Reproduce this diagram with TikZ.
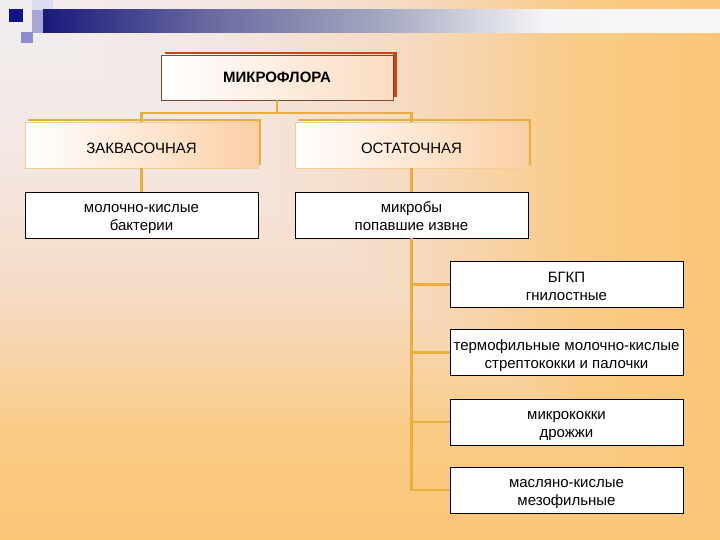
\documentclass[tikz,border=0pt]{standalone}
\usepackage{fontspec}
\setmainfont{Liberation Sans}
\usetikzlibrary{positioning,shadows}
\definecolor{bgpale}{HTML}{F1EEF0}
\definecolor{bgone}{HTML}{F3E7E2}
\definecolor{bgmid}{HTML}{F6DAC2}
\definecolor{bgdeep}{HTML}{F9CB86}
\definecolor{bgorange}{HTML}{FAC676}
\definecolor{navy}{HTML}{1A1A7C}
\definecolor{navyd}{HTML}{12128C}
\definecolor{slate}{HTML}{A4A8C0}
\definecolor{slated}{HTML}{6868A0}
\definecolor{barend}{HTML}{F6F6F8}
\definecolor{lav}{HTML}{DCDCF0}
\definecolor{lavm}{HTML}{A8A8D8}
\definecolor{lavd}{HTML}{8E8ECC}
\definecolor{cred}{HTML}{C8441A}
\definecolor{cbrown}{HTML}{7A4A30}
\definecolor{cgold}{HTML}{E9AE3C}
\definecolor{lgold}{HTML}{F2CC90}
\definecolor{lpeach}{HTML}{FCDCC2}
\definecolor{lpeachb}{HTML}{FCCFA6}
% corner gradient: one axis shading for each half of the slide
\pgfdeclarehorizontalshading{bgh}{100bp}{color(0bp)=(bgpale); color(25bp)=(bgpale);
  color(40bp)=(bgone); color(53bp)=(bgmid); color(65bp)=(bgdeep); color(75bp)=(bgorange); color(100bp)=(bgorange)}
\pgfdeclareverticalshading{bgv}{100bp}{color(0bp)=(bgorange); color(25bp)=(bgorange);
  color(35bp)=(bgdeep); color(47bp)=(bgmid); color(60bp)=(bgone); color(75bp)=(bgpale); color(100bp)=(bgpale)}
\pgfdeclarehorizontalshading{barshade}{100bp}{color(0bp)=(navy); color(25bp)=(navy);
  color(37bp)=(slated); color(50bp)=(slate); color(62bp)=(white!88!slate); color(68bp)=(barend); color(100bp)=(barend)}
\tikzset{
  every picture/.style={x=1pt,y=1pt,font=\fontsize{15}{18}\selectfont},
  topbox/.style={draw=cbrown,line width=0.6pt,left color=white,right color=lpeach,
    minimum width=232pt,minimum height=45pt,inner sep=0pt,font=\fontsize{15}{18}\selectfont\bfseries,
    drop shadow={shadow xshift=4pt,shadow yshift=3pt,fill=cred,opacity=1}},
  catbox/.style={draw=lgold,line width=0.5pt,left color=white,right color=lpeachb,
    minimum width=233pt,minimum height=46pt,inner sep=0pt,text height=17pt,text depth=0pt,
    drop shadow={shadow xshift=2.5pt,shadow yshift=2.5pt,fill=cgold,opacity=1}},
  leaf/.style={draw=black,line width=0.7pt,fill=white,minimum width=233pt,minimum height=46pt,
    inner sep=0pt,align=center,text height=37pt,text depth=5pt},
  link/.style={draw=cgold,line width=2.4pt},
}
\begin{document}
\begin{tikzpicture}
  % background
  \useasboundingbox (0,0) rectangle (720,540);
  \shade[shading=bgv] (0,0) rectangle (720,540);
  \begin{scope}
    \clip (0,540) -- (720,540) -- (720,0) -- cycle;
    \shade[shading=bgh] (0,0) rectangle (720,540);
  \end{scope}
  % title bar
  \fill[lav] (32,530) rectangle (53,540);
  \fill[lavm] (32,507) rectangle (43,530);
  \shade[shading=barshade] (43,507) rectangle (720,530);
  \fill[navyd] (9,518) rectangle (23,531);
  \fill[lavd] (21,497) rectangle (33,508);
  % tree
  \node[topbox] (mf) at (277,462.5) {МИКРОФЛОРА};
  \node[catbox] (zk) at (141.5,395) {ЗАКВАСОЧНАЯ};
  \node[catbox] (os) at (411.5,395) {ОСТАТОЧНАЯ};
  \node[leaf] (mk) at (141.5,325) {молочно-кислые\\бактерии};
  \node[leaf] (mb) at (411.5,325) {микробы\\попавшие извне};
  \node[leaf] (r1) at (566.5,255.5) {БГКП\\гнилостные};
  \node[leaf] (r2) at (566.5,187.5) {термофильные молочно-кислые\\стрептококки и палочки};
  \node[leaf] (r3) at (566.5,118) {микрококки\\дрожжи};
  \node[leaf] (r4) at (566.5,50) {масляно-кислые\\мезофильные};
  \coordinate (jn) at (0,427);
  \draw[link] (mf.south) -- (mf.south |- jn);
  \draw[link] (zk.north) -- (zk.north |- jn) -| (os.north);
  \draw[link] (zk) -- (mk);
  \draw[link] (os) -- (mb);
  \draw[link] (mb.south) |- (r4.west);
  \foreach \r in {r1,r2,r3} \draw[link] (mb.south |- \r.west) -- (\r.west);
\end{tikzpicture}
\end{document}
